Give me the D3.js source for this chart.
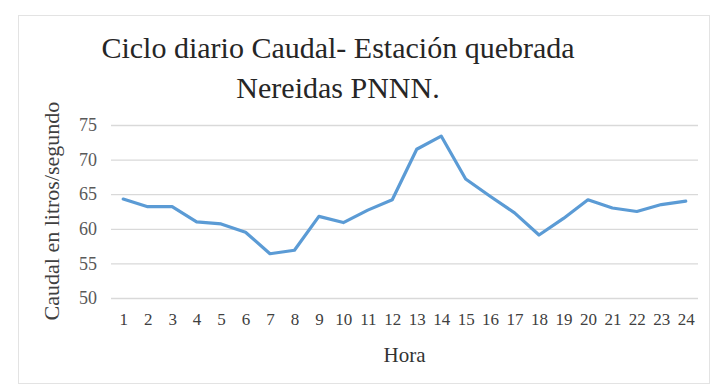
<!DOCTYPE html>
<html>
<head>
<meta charset="utf-8">
<script src="https://cdn.jsdelivr.net/npm/d3@7"></script>
<style>
  body { margin: 0; background: #fff; }
</style>
</head>
<body>
<svg id="chart" width="716" height="387"></svg>
<script>
const horas = d3.range(1, 25).map(String);
const caudal = [64.3, 63.2, 63.2, 61.0, 60.7, 59.5, 56.4, 56.9, 61.8, 60.9,
                62.7, 64.2, 71.5, 73.4, 67.2, 64.7, 62.3, 59.1, 61.5, 64.2,
                63.0, 62.5, 63.5, 64.0];
const yTicks = [50, 55, 60, 65, 70, 75];
const titleLines = ["Ciclo diario Caudal- Estación quebrada", "Nereidas PNNN."];

const width = 716;
const height = 387;
const marginLeft = 111;
const marginRight = 18;
const marginTop = 125;
const plotBottom = 298;
const serif = "'Liberation Serif', 'Times New Roman', serif";

const svg = d3.select("#chart");

// chart frame
svg.append("rect")
    .attr("x", 18.5).attr("y", 15.5)
    .attr("width", 691).attr("height", 368)
    .attr("fill", "#fff")
    .attr("stroke", "#e3e3e3");

const x = d3.scalePoint()
    .domain(horas)
    .range([marginLeft, width - marginRight])
    .padding(0.5);

const y = d3.scaleLinear()
    .domain([50, 75])
    .range([plotBottom, marginTop]);

// gridlines + y labels
svg.append("g")
    .attr("transform", `translate(${marginLeft},0)`)
    .call(d3.axisLeft(y).tickValues(yTicks).tickSize(-(width - marginRight - marginLeft)).tickPadding(14))
    .call(g => g.select(".domain").remove())
    .call(g => g.selectAll(".tick line").attr("stroke", "#d9d9d9").attr("stroke-width", 1.3))
    .call(g => g.selectAll(".tick text")
        .attr("fill", "#595959")
        .attr("font-family", serif)
        .attr("font-size", 18));

// x labels
svg.append("g")
    .attr("transform", `translate(0,${plotBottom})`)
    .call(d3.axisBottom(x).tickSize(0).tickPadding(15))
    .call(g => g.select(".domain").remove())
    .call(g => g.selectAll(".tick text")
        .attr("fill", "#404040")
        .attr("font-family", serif)
        .attr("font-size", 17));

// line
svg.append("path")
    .datum(caudal)
    .attr("fill", "none")
    .attr("stroke", "#5b9bd5")
    .attr("stroke-width", 3.2)
    .attr("stroke-linejoin", "round")
    .attr("stroke-linecap", "round")
    .attr("d", d3.line()
        .x((d, i) => x(horas[i]))
        .y(d => y(d)));

// title
svg.append("text")
    .attr("text-anchor", "middle")
    .attr("fill", "#262626")
    .attr("font-family", serif)
    .attr("font-size", 30)
    .selectAll("tspan")
    .data(titleLines)
    .join("tspan")
    .attr("x", 338)
    .attr("y", (d, i) => 58 + i * 40)
    .text(d => d);

// axis titles
svg.append("text")
    .attr("x", (marginLeft + width - marginRight) / 2)
    .attr("y", 362)
    .attr("text-anchor", "middle")
    .attr("fill", "#333")
    .attr("font-family", serif)
    .attr("font-size", 21)
    .text("Hora");

svg.append("text")
    .attr("transform", `translate(59,211) rotate(-90)`)
    .attr("text-anchor", "middle")
    .attr("fill", "#404040")
    .attr("font-family", serif)
    .attr("font-size", 22)
    .text("Caudal en litros/segundo");
</script>
</body>
</html>
